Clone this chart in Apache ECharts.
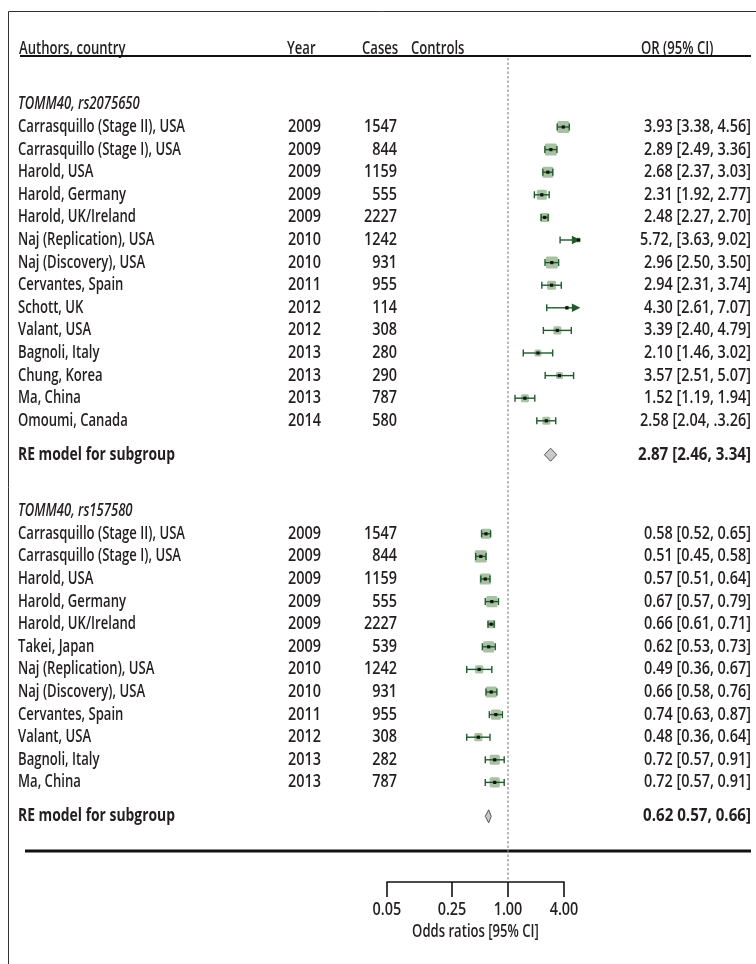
<!DOCTYPE html>
<html>
<head>
<meta charset="utf-8">
<script src="https://cdn.jsdelivr.net/npm/echarts@6/dist/echarts.min.js"></script>
<style>
  html, body { margin: 0; padding: 0; background: #fff; }
  #chart { width: 756px; height: 964px; }
</style>
</head>
<body>
<div id="chart"></div>
<script>
// ---------------- Subgroup 1: TOMM40 rs2075650 ----------------
const group1Title = 'TOMM40, rs2075650';
const group1Authors = [
  'Carrasquillo (Stage II), USA', 'Carrasquillo (Stage I), USA', 'Harold, USA',
  'Harold, Germany', 'Harold, UK/Ireland', 'Naj (Replication), USA',
  'Naj (Discovery), USA', 'Cervantes, Spain', 'Schott, UK', 'Valant, USA',
  'Bagnoli, Italy', 'Chung, Korea', 'Ma, China', 'Omoumi, Canada'
];
const group1Years = [2009, 2009, 2009, 2009, 2009, 2010, 2010, 2011, 2012, 2012, 2013, 2013, 2013, 2014];
const group1Cases = [1547, 844, 1159, 555, 2227, 1242, 931, 955, 114, 308, 280, 290, 787, 580];
const group1OR    = [3.93, 2.89, 2.68, 2.31, 2.48, 5.72, 2.96, 2.94, 4.30, 3.39, 2.10, 3.57, 1.52, 2.58];
const group1Lower = [3.38, 2.49, 2.37, 1.92, 2.27, 3.63, 2.50, 2.31, 2.61, 2.40, 1.46, 2.51, 1.19, 2.04];
const group1Upper = [4.56, 3.36, 3.03, 2.77, 2.70, 9.02, 3.50, 3.74, 7.07, 4.79, 3.02, 5.07, 1.94, 3.26];
const group1Weight = [9.8, 9.8, 9.0, 8.2, 7.4, 4.1, 9.8, 7.4, 3.3, 6.6, 5.7, 5.7, 6.6, 6.6];
const group1CIText = [
  '3.93 [3.38, 4.56]', '2.89 [2.49, 3.36]', '2.68 [2.37, 3.03]', '2.31 [1.92, 2.77]',
  '2.48 [2.27, 2.70]', '5.72, [3.63, 9.02]', '2.96 [2.50, 3.50]', '2.94 [2.31, 3.74]',
  '4.30 [2.61, 7.07]', '3.39 [2.40, 4.79]', '2.10 [1.46, 3.02]', '3.57 [2.51, 5.07]',
  '1.52 [1.19, 1.94]', '2.58 [2.04, .3.26]'
];
const group1Pooled = [2.87, 2.46, 3.34];
const group1PooledText = '2.87 [2.46, 3.34]';

// ---------------- Subgroup 2: TOMM40 rs157580 ----------------
const group2Title = 'TOMM40, rs157580';
const group2Authors = [
  'Carrasquillo (Stage II), USA', 'Carrasquillo (Stage I), USA', 'Harold, USA',
  'Harold, Germany', 'Harold, UK/Ireland', 'Takei, Japan', 'Naj (Replication), USA',
  'Naj (Discovery), USA', 'Cervantes, Spain', 'Valant, USA', 'Bagnoli, Italy', 'Ma, China'
];
const group2Years = [2009, 2009, 2009, 2009, 2009, 2009, 2010, 2010, 2011, 2012, 2013, 2013];
const group2Cases = [1547, 844, 1159, 555, 2227, 539, 1242, 931, 955, 308, 282, 787];
const group2OR    = [0.58, 0.51, 0.57, 0.67, 0.66, 0.62, 0.49, 0.66, 0.74, 0.48, 0.72, 0.72];
const group2Lower = [0.52, 0.45, 0.51, 0.57, 0.61, 0.53, 0.36, 0.58, 0.63, 0.36, 0.57, 0.57];
const group2Upper = [0.65, 0.58, 0.64, 0.79, 0.71, 0.73, 0.67, 0.76, 0.87, 0.64, 0.91, 0.91];
const group2Weight = [8.3, 10.0, 9.2, 9.2, 6.7, 9.2, 6.7, 9.2, 8.3, 6.7, 8.3, 8.3];
const group2CIText = [
  '0.58 [0.52, 0.65]', '0.51 [0.45, 0.58]', '0.57 [0.51, 0.64]', '0.67 [0.57, 0.79]',
  '0.66 [0.61, 0.71]', '0.62 [0.53, 0.73]', '0.49 [0.36, 0.67]', '0.66 [0.58, 0.76]',
  '0.74 [0.63, 0.87]', '0.48 [0.36, 0.64]', '0.72 [0.57, 0.91]', '0.72 [0.57, 0.91]'
];
const group2Pooled = [0.62, 0.57, 0.66];
const group2PooledText = '0.62 0.57, 0.66]';

// ---------------- Shared labels and axis ----------------
const headerLabels = ['Authors, country', 'Year', 'Cases', 'Controls', 'OR (95% CI)'];
const pooledLabel = 'RE model for subgroup';
const axisTicks = [0.05, 0.25, 1, 4];
const axisTitle = 'Odds ratios [95% CI]';
const nullOR = 1;
const clipOR = 6;

// ---------------- Layout ----------------
const FONT = '"Open Sans", "Noto Sans", sans-serif';
const FS = 17.5;
const REGULAR = 600;
const TEXT_COLOR = '#231f20';
const W = 756, H = 964;
const ROW_PX = 22.6;           // pixels per table row
const ROW0_Y = 104.4;          // pixel y of row 0
const Y_MIN = -4, Y_MAX = 36;
const GRID_TOP = ROW0_Y + Y_MIN * ROW_PX;
const GRID_H = (Y_MAX - Y_MIN) * ROW_PX;
const NULL_X = 508;            // pixel x of OR = 1
const PX_PER_LN = 40.4;        // pixels per unit of ln(OR)
const AXIS_Y = 882;
const rowOf = y => (y - ROW0_Y) / ROW_PX;

const COL_AUTHOR = 18, COL_YEAR = 288, COL_CASES = 397, COL_CI = 751;
const HEAD_X = [19, 287, 362, 411, 641];

// Condensed look: horizontal squeeze factors fitted to a few sample strings
const measureCtx = document.createElement('canvas').getContext('2d');
function textWidth(str, weight, style) {
  measureCtx.font = (style || 'normal') + ' ' + (weight || REGULAR) + ' ' + FS + 'px ' + FONT;
  return measureCtx.measureText(str).width;
}
function fitScale(samples) {
  let target = 0, actual = 0;
  samples.forEach(s => { target += s[1]; actual += textWidth(s[0], s[2], s[3]); });
  return target / actual;
}
const WORD_SCALE = fitScale([
  ['Carrasquillo (Stage II), USA', 150], ['Harold, Germany', 110], ['Authors, country', 110],
  ['TOMM40, rs2075650', 130, REGULAR, 'italic'], ['Odds ratios [95% CI]', 130]
]);
const FIGURE_SCALE = fitScale([['3.93 [3.38, 4.56]', 107], ['1547', 33]]);
const BOLD_SCALE = fitScale([['RE model for subgroup', 157, 'bold']]);
const BOLD_FIGURE_SCALE = fitScale([['2.87 [2.46, 3.34]', 113, 'bold']]);

const lnMin = Math.log(axisTicks[0]);
const lnAxisMax = Math.log(axisTicks[axisTicks.length - 1]);
const lnClip = Math.log(clipOR);
const plotLeft = NULL_X + PX_PER_LN * lnMin;

const groups = [
  { title: group1Title, authors: group1Authors, years: group1Years, cases: group1Cases,
    or: group1OR, lower: group1Lower, upper: group1Upper, weight: group1Weight,
    ciText: group1CIText, pooled: group1Pooled, pooledText: group1PooledText },
  { title: group2Title, authors: group2Authors, years: group2Years, cases: group2Cases,
    or: group2OR, lower: group2Lower, upper: group2Upper, weight: group2Weight,
    ciText: group2CIText, pooled: group2Pooled, pooledText: group2PooledText }
];

// Assign table rows: title, studies, gap, pooled row, gap before next title
const studyData = [], pooledData = [], textItems = [];
let row = 0;
groups.forEach((g, gi) => {
  if (gi > 0) row += 2.5;
  textItems.push({ x: COL_AUTHOR, row, text: g.title, align: 'left', style: 'italic', scale: WORD_SCALE });
  g.authors.forEach((a, i) => {
    row += 1;
    studyData.push([Math.log(g.or[i]), Math.log(g.lower[i]), Math.log(g.upper[i]), row, g.weight[i]]);
    textItems.push({ x: COL_AUTHOR, row, text: a, align: 'left', scale: WORD_SCALE });
    textItems.push({ x: COL_YEAR, row, text: String(g.years[i]), align: 'left', scale: FIGURE_SCALE });
    textItems.push({ x: COL_CASES, row, text: String(g.cases[i]), align: 'right', scale: FIGURE_SCALE });
    textItems.push({ x: COL_CI, row, text: g.ciText[i], align: 'right', scale: FIGURE_SCALE });
  });
  row += 1.5;
  pooledData.push([Math.log(g.pooled[0]), Math.log(g.pooled[1]), Math.log(g.pooled[2]), row]);
  textItems.push({ x: COL_AUTHOR, row, text: pooledLabel, align: 'left', weight: 'bold', scale: BOLD_SCALE });
  textItems.push({ x: COL_CI, row, text: g.pooledText, align: 'right', weight: 'bold', scale: BOLD_FIGURE_SCALE });
});
const headerRow = rowOf(49.5);
headerLabels.forEach((h, i) => textItems.push({ x: HEAD_X[i], row: headerRow, text: h, align: 'left', scale: WORD_SCALE }));

const SQUARE_SCALE = 1.22;
const CI_COLOR = '#1f5a2c';
const BOX_COLOR = 'rgba(115,155,105,0.62)';

function renderStudy(params, api) {
  const y = api.value(3);
  const c = api.coord([api.value(0), y]);
  const lo = api.coord([api.value(1), y]);
  const clipped = api.value(2) > lnClip;
  const hi = api.coord([Math.min(api.value(2), lnClip), y]);
  const side = api.value(4) * SQUARE_SCALE;
  const arrowLen = 8.5, cap = 3.5;
  const lineEnd = clipped ? hi[0] - arrowLen + 1 : hi[0];
  const lineStyle = { stroke: CI_COLOR, lineWidth: 1.4 };
  const children = [
    { type: 'rect', shape: { x: c[0] - side / 2, y: c[1] - side / 2, width: side, height: side, r: 1.5 },
      style: { fill: BOX_COLOR } },
    { type: 'line', shape: { x1: lo[0], y1: lo[1], x2: lineEnd, y2: lo[1] }, style: lineStyle },
    { type: 'line', shape: { x1: lo[0], y1: lo[1] - cap, x2: lo[0], y2: lo[1] + cap }, style: lineStyle }
  ];
  if (clipped) {
    children.push({ type: 'polygon',
      shape: { points: [[hi[0] - arrowLen, hi[1] - 4.2], [hi[0], hi[1]], [hi[0] - arrowLen, hi[1] + 4.2]] },
      style: { fill: CI_COLOR } });
  } else {
    children.push({ type: 'line', shape: { x1: hi[0], y1: hi[1] - cap, x2: hi[0], y2: hi[1] + cap }, style: lineStyle });
  }
  children.push({ type: 'rect', shape: { x: c[0] - 1.6, y: c[1] - 1.6, width: 3.2, height: 3.2 },
    style: { fill: '#111' } });
  return { type: 'group', children };
}

function renderPooled(params, api) {
  const y = api.value(3);
  const c = api.coord([api.value(0), y]);
  const lo = api.coord([api.value(1), y]);
  const hi = api.coord([api.value(2), y]);
  const h = 6.5;
  return { type: 'polygon',
    shape: { points: [[lo[0], lo[1]], [c[0], c[1] - h], [hi[0], hi[1]], [c[0], c[1] + h]] },
    style: { fill: '#c9c9c9', stroke: '#555', lineWidth: 1 } };
}

function textEl(x, y, t) {
  return { type: 'text', x, y, scaleX: t.scale, scaleY: 1,
    style: { text: t.text, fill: TEXT_COLOR, align: t.align, verticalAlign: 'middle',
      fontFamily: FONT, fontSize: FS, fontWeight: t.weight || REGULAR, fontStyle: t.style || 'normal' } };
}

function renderText(params, api) {
  const t = textItems[api.value(2)];
  const p = api.coord([t.x, t.row]);
  return textEl(p[0], p[1], t);
}

// Tick labels and title beneath the odds-ratio axis, placed by that axis
const axisTextItems = axisTicks.map(v => ({ value: Math.log(v), text: v.toFixed(2), dy: 28, scale: FIGURE_SCALE }))
  .concat([{ value: (lnMin + lnAxisMax) / 2, text: axisTitle, dy: 50, scale: WORD_SCALE }]);
function renderAxisText(params, api) {
  const t = axisTextItems[params.dataIndex];
  const p = api.coord([api.value(0), 0]);
  return textEl(p[0], AXIS_Y + t.dy, { text: t.text, align: 'center', scale: t.scale });
}

const hiddenY = (gridIndex) => ({ type: 'value', gridIndex, min: Y_MIN, max: Y_MAX, inverse: true, show: false });

const option = {
  animation: false,
  backgroundColor: '#fff',
  grid: [
    { left: 0, top: GRID_TOP, width: W, height: GRID_H },
    { left: plotLeft, top: GRID_TOP, width: PX_PER_LN * (lnClip - lnMin), height: GRID_H },
    { left: plotLeft, top: AXIS_Y - 1, width: PX_PER_LN * (lnAxisMax - lnMin), height: 1 }
  ],
  xAxis: [
    { type: 'value', gridIndex: 0, min: 0, max: W, show: false },
    { type: 'value', gridIndex: 1, min: lnMin, max: lnClip, show: false },
    { type: 'value', gridIndex: 2, min: lnMin, max: lnAxisMax, position: 'bottom',
      axisLine: { show: true, lineStyle: { color: '#111', width: 1.6 } },
      axisTick: { show: true, inside: false, length: 15, customValues: axisTicks.map(Math.log),
        lineStyle: { color: '#111', width: 1.6 } },
      axisLabel: { show: false },
      splitLine: { show: false } }
  ],
  yAxis: [hiddenY(0), hiddenY(1), { type: 'value', gridIndex: 2, min: 0, max: 1, show: false }],
  graphic: [
    { type: 'polyline', silent: true, shape: { points: [[8.5, H], [8.5, 11.5], [W, 11.5]] },
      style: { stroke: '#333', lineWidth: 1, fill: null } }
  ],
  series: [
    { // header rule
      type: 'line', xAxisIndex: 0, yAxisIndex: 0, symbol: 'none', silent: true,
      data: [[20, rowOf(56)], [751, rowOf(56)]],
      lineStyle: { color: '#111', width: 2 } },
    { // closing rule under the table
      type: 'line', xAxisIndex: 0, yAxisIndex: 0, symbol: 'none', silent: true,
      data: [[25, rowOf(851)], [751, rowOf(851)]],
      lineStyle: { color: '#111', width: 3 } },
    { // line of no effect
      type: 'line', xAxisIndex: 1, yAxisIndex: 1, symbol: 'none', silent: true,
      data: [[Math.log(nullOR), rowOf(58)], [Math.log(nullOR), rowOf(AXIS_Y)]],
      lineStyle: { color: '#8a8a8a', width: 1.2, type: [2.5, 2] } },
    { type: 'custom', xAxisIndex: 1, yAxisIndex: 1, clip: false, silent: true,
      renderItem: renderStudy, data: studyData },
    { type: 'custom', xAxisIndex: 1, yAxisIndex: 1, clip: false, silent: true,
      renderItem: renderPooled, data: pooledData },
    { type: 'custom', xAxisIndex: 0, yAxisIndex: 0, clip: false, silent: true,
      renderItem: renderText, data: textItems.map((t, i) => [t.x, t.row, i]) },
    { type: 'custom', xAxisIndex: 2, yAxisIndex: 2, clip: false, silent: true,
      renderItem: renderAxisText, data: axisTextItems.map(t => [t.value, 0]) }
  ]
};

const chart = echarts.init(document.getElementById('chart'), null, { renderer: 'canvas', width: W, height: H });
chart.setOption(option);
</script>
</body>
</html>
